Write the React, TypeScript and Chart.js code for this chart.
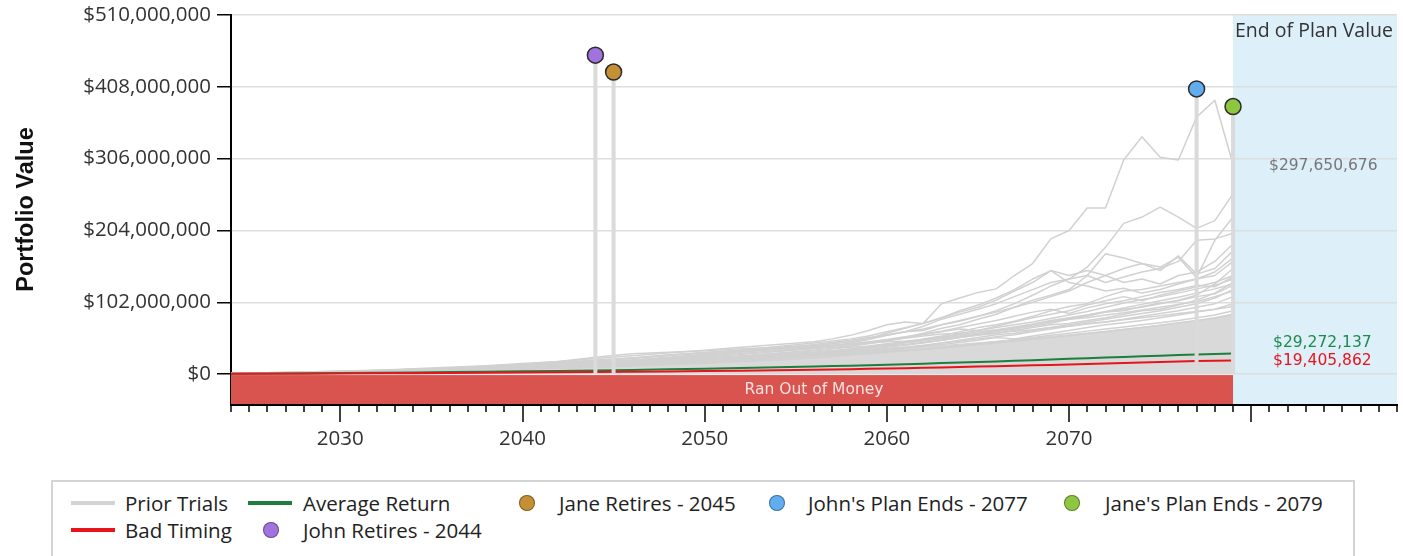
import { useEffect, useRef } from "react";
import { Chart, registerables } from "chart.js";

Chart.register(...registerables);

// ---------- DATA ----------
const trialYears = [2024, 2026, 2028, 2030, 2032, 2034, 2036, 2038, 2040, 2042, 2044, 2046, 2048, 2050, 2052, 2054, 2056, 2057, 2058, 2059, 2060, 2061, 2062, 2063, 2064, 2065, 2066, 2067, 2068, 2069, 2070, 2071, 2072, 2073, 2074, 2075, 2076, 2077, 2078, 2079];

// Prior trial paths, in $ millions
const trial01 = [1.2, 2.0, 3.0, 4.2, 5.6, 7.4, 9.6, 12, 15, 18, 22, 26, 30, 34, 38, 42, 46, 50, 55, 62, 70, 74, 72, 100, 108, 116, 121, 140, 157, 192, 204, 236, 236, 304, 337, 308, 304, 365, 389, 297.65];
const trial02 = [1.0, 1.8, 2.7, 3.8, 5.0, 6.5, 8.3, 10.5, 13, 16, 19, 23, 27, 31, 34, 37, 41, 44, 46, 50, 55, 60, 68, 78, 85, 92, 100, 110, 120, 130, 135, 152, 180, 214, 223, 237, 223, 207, 218, 256];
const trial03 = [1.1, 1.9, 2.8, 3.9, 5.2, 6.8, 8.6, 11, 13.5, 16.5, 20, 23, 27, 30, 33, 37, 42, 45, 48, 52, 56, 60, 64, 70, 76, 82, 88, 95, 105, 112, 120, 140, 171, 165, 157, 152, 166, 137, 190, 223];
const trial04 = [0.9, 1.6, 2.4, 3.3, 4.4, 5.7, 7.2, 9.0, 11, 13.5, 16, 19, 22, 26, 29, 33, 37, 40, 44, 49, 55, 60, 62, 70, 75, 82, 90, 100, 112, 125, 135, 140, 130, 138, 145, 150, 160, 190, 192, 200];
const trial05 = [1.0, 1.7, 2.5, 3.4, 4.5, 5.8, 7.4, 9.2, 11.5, 14, 17, 20, 24, 28, 32, 36, 40, 43, 46, 50, 58, 65, 72, 80, 88, 95, 105, 118, 130, 147, 140, 147, 140, 130, 135, 128, 140, 145, 160, 185];
const trial06 = [0.9, 1.5, 2.2, 3.0, 4.0, 5.2, 6.6, 8.2, 10, 12, 14.5, 17, 20, 24, 28, 32, 36, 38, 40, 43, 47, 52, 58, 65, 70, 78, 85, 95, 102, 110, 118, 130, 140, 150, 157, 147, 168, 142, 150, 175];
const trial07 = [0.8, 1.4, 2.1, 2.9, 3.8, 4.9, 6.2, 7.8, 9.5, 11.5, 14, 16.5, 19, 22, 25, 28, 31, 33, 35, 38, 40, 45, 50, 54, 60, 66, 70, 75, 82, 90, 96, 100, 110, 118, 120, 125, 130, 135, 145, 165];
const trial08 = [0.8, 1.4, 2.0, 2.8, 3.7, 4.7, 5.9, 7.3, 9, 11, 13, 15.5, 18, 21, 24, 27, 30, 32, 34, 37, 40, 42, 45, 48, 52, 56, 60, 64, 68, 72, 78, 82, 88, 92, 95, 100, 105, 112, 128, 150];
const trial09 = [0.9, 1.5, 2.2, 3.0, 3.9, 5.0, 6.3, 7.8, 9.5, 11.5, 13.5, 16, 19, 22, 25, 29, 33, 36, 40, 44, 48, 52, 56, 60, 64, 62, 68, 74, 80, 85, 90, 98, 104, 110, 104, 112, 118, 124, 130, 140];
const trial10 = [0.7, 1.2, 1.8, 2.5, 3.3, 4.2, 5.3, 6.6, 8, 9.6, 11.5, 13.5, 16, 19, 22, 25, 28, 30, 32, 35, 38, 41, 44, 48, 52, 55, 58, 62, 66, 70, 72, 76, 80, 85, 90, 92, 98, 105, 115, 130];
const trial11 = [0.8, 1.3, 1.9, 2.6, 3.4, 4.4, 5.5, 6.8, 8.3, 10, 12, 14, 16.5, 19, 22, 25, 28, 30, 32, 34, 36, 38, 40, 44, 48, 52, 56, 58, 62, 66, 70, 74, 78, 82, 86, 90, 95, 100, 108, 120];
const trial12 = [0.7, 1.2, 1.8, 2.4, 3.1, 4.0, 5.0, 6.2, 7.6, 9.2, 11, 13, 15, 17.5, 20, 23, 26, 28, 30, 33, 36, 38, 41, 44, 47, 50, 53, 56, 60, 64, 68, 72, 74, 78, 82, 86, 90, 95, 100, 110];
const trial13 = [0.8, 1.3, 1.9, 2.6, 3.4, 4.3, 5.4, 6.7, 8.2, 9.9, 12, 14, 16, 18, 20, 23, 26, 27, 29, 32, 34, 37, 40, 42, 45, 48, 52, 50, 54, 58, 62, 66, 70, 73, 76, 80, 84, 88, 92, 100];
const trial14 = [0.6, 1.0, 1.5, 2.1, 2.8, 3.6, 4.5, 5.6, 6.8, 8.2, 9.8, 11.5, 13.5, 15.5, 18, 20, 23, 25, 27, 29, 31, 33, 35, 37, 40, 43, 46, 49, 52, 55, 58, 61, 64, 67, 70, 73, 76, 80, 84, 90];
const trial15 = [0.9, 1.5, 2.3, 3.2, 4.3, 5.6, 7.1, 8.9, 11, 13.5, 16.5, 19.5, 23, 27, 31, 35, 39, 41, 43, 46, 49, 53, 57, 61, 66, 71, 76, 82, 88, 92, 86, 94, 100, 104, 110, 116, 120, 126, 124, 138];
const trial16 = [0.7, 1.2, 1.8, 2.5, 3.3, 4.3, 5.4, 6.7, 8.2, 10, 12, 14.5, 17, 20, 23, 26, 29, 31, 34, 37, 41, 45, 49, 53, 57, 56, 61, 66, 70, 75, 79, 84, 88, 90, 96, 101, 104, 110, 114, 126];
const trial17 = [0.8, 1.3, 2.0, 2.7, 3.6, 4.6, 5.8, 7.2, 8.8, 10.6, 12.8, 15.2, 18, 21, 24, 27.5, 31, 33, 36, 39, 42, 44, 47, 50, 54, 58, 62, 65, 70, 74, 78, 80, 84, 87, 91, 95, 99, 103, 110, 118];
const trial18 = [0.6, 1.0, 1.5, 2.1, 2.8, 3.6, 4.6, 5.7, 7, 8.5, 10.2, 12.2, 14.4, 16.8, 19.5, 22.4, 25.5, 27, 28.6, 30.3, 32, 33.8, 35.7, 37.7, 39.8, 42, 44.3, 46.7, 49.2, 51.8, 54.5, 57.3, 60.2, 63.2, 66.3, 69.5, 72.8, 76, 80, 85];
const trial19 = [1.0, 1.7, 2.6, 3.7, 5.0, 6.6, 8.5, 11, 14, 18, 24, 29, 31, 33, 36, 38, 40, 41, 42, 44, 46, 47, 49, 51, 53, 56, 58, 61, 63, 66, 68, 71, 74, 77, 80, 83, 86, 89, 92, 96];
const trial20 = [0.9, 1.4, 2.1, 2.9, 3.9, 5.1, 6.5, 8.1, 10, 12.2, 14.8, 17.7, 21, 24.7, 28.8, 33.3, 38, 40, 42, 45, 48, 51, 54, 57, 58, 62, 66, 70, 74, 79, 84, 89, 95, 101, 106, 110, 115, 121, 126, 135];
const trial21 = [1.0, 1.6, 2.4, 3.4, 4.6, 6.0, 7.7, 9.7, 12, 15, 18.5, 22, 26, 30, 34, 39, 44, 47, 50, 54, 60, 66, 72, 80, 90, 98, 108, 120, 135, 147, 130, 125, 118, 122, 115, 120, 128, 135, 140, 160];
const trial22 = [0.8, 1.3, 2.0, 2.8, 3.7, 4.8, 6.1, 7.6, 9.4, 11.4, 13.7, 16.3, 19.2, 22.4, 26, 30, 34, 36, 38, 40, 43, 46, 49, 52, 56, 60, 63, 67, 71, 76, 80, 84, 89, 94, 99, 104, 109, 115, 121, 128];
const priorTrials = [trial01, trial02, trial03, trial04, trial05, trial06, trial07, trial08, trial09, trial10, trial11, trial12, trial13, trial14, trial15, trial16, trial17, trial18, trial19, trial20, trial21, trial22];

// Upper edge of the densely packed bulk of prior trials ($M)
const denseTrialsTop = [0.7, 1.3, 1.9, 2.6, 3.4, 4.4, 5.6, 7, 8.6, 10.4, 12.4, 14.6, 17, 19.6, 22.4, 25.4, 28.6, 30.3, 32, 33.5, 35.4, 37, 38.8, 40.6, 42.4, 44.5, 46.5, 48.6, 51, 53.5, 56, 58.5, 61, 63.8, 66.5, 69.5, 72.5, 75.5, 79, 84];

const averageReturn = [0.6, 0.9, 1.2, 1.5, 1.9, 2.3, 2.8, 3.3, 3.9, 4.5, 5.2, 5.9, 6.7, 7.6, 8.6, 9.6, 10.8, 11.4, 12.0, 12.7, 13.4, 14.1, 14.8, 15.6, 16.4, 17.2, 18.0, 18.9, 19.8, 20.7, 21.6, 22.5, 23.4, 24.4, 25.3, 26.2, 27.1, 27.9, 28.6, 29.27];
const badTiming = [0.3, 0.45, 0.6, 0.8, 1.0, 1.25, 1.5, 1.8, 2.1, 2.5, 2.9, 3.3, 3.8, 4.3, 4.9, 5.5, 6.2, 6.6, 7.0, 7.4, 7.9, 8.4, 8.9, 9.4, 10.0, 10.6, 11.2, 11.8, 12.4, 13.0, 13.7, 14.4, 15.1, 15.8, 16.5, 17.2, 17.9, 18.5, 19.0, 19.41];

const milestoneLabels = ["John Retires - 2044", "Jane Retires - 2045", "John's Plan Ends - 2077", "Jane's Plan Ends - 2079"];
const milestoneYears = [2044, 2045, 2077, 2079];
const milestoneValues = [453, 429, 405, 380]; // $M
const milestoneColors = ["#a272de", "#c48f35", "#62acf0", "#8dc63f"];

const yTickValues = [0, 102000000, 204000000, 306000000, 408000000, 510000000];
const xMin = 2024;
const xMax = 2088;
const planEnd = 2079;
const yMin = -42500000;
const yMax = 510000000;

const endMaxValue = 297650676;
const endAverageValue = 29272137;
const endBadValue = 19405862;

const M = 1000000;
const fmt = (v: number) => "$" + Math.round(v).toLocaleString("en-US");

const TICK_FONT = "'Open Sans', 'Noto Sans', sans-serif";
const NOTE_FONT = "'DejaVu Sans', sans-serif";

const toPoints = (vals: number[]) => vals.map((v, i) => ({ x: trialYears[i], y: v * M }));

const overlayPlugin = {
  id: "overlay",
  beforeDraw(chart: any) {
    const { ctx, chartArea, scales } = chart;
    const xs = scales.x;
    const x0 = xs.getPixelForValue(planEnd);
    ctx.save();
    ctx.fillStyle = "#ddeff9";
    ctx.fillRect(x0, chartArea.top, chartArea.right - x0, chartArea.bottom - chartArea.top);
    ctx.restore();
  },
  beforeDatasetsDraw(chart: any) {
    const { ctx, chartArea, scales } = chart;
    const xs = scales.x;
    const ys = scales.y;
    const xa = xs.getPixelForValue(xMin);
    const xb = xs.getPixelForValue(planEnd);
    const y0 = ys.getPixelForValue(0);
    ctx.save();
    ctx.fillStyle = "#d9534f";
    ctx.fillRect(xa, y0 + 1, xb - xa, chartArea.bottom - y0 - 1);
    ctx.restore();
  },
  afterDatasetsDraw(chart: any) {
    const { ctx, chartArea, scales } = chart;
    const xs = scales.x;
    const ys = scales.y;
    ctx.save();
    const y0 = ys.getPixelForValue(0);
    ctx.fillStyle = "#f7e2e2";
    ctx.font = `15.5px ${NOTE_FONT}`;
    ctx.textAlign = "center";
    ctx.textBaseline = "middle";
    ctx.fillText("Ran Out of Money", xs.getPixelForValue(2056), (y0 + chartArea.bottom) / 2 + 1);

    const xe = xs.getPixelForValue(planEnd);
    ctx.textAlign = "left";
    ctx.fillStyle = "#333";
    ctx.font = `19.5px ${TICK_FONT}`;
    ctx.fillText("End of Plan Value", xe + 2, chartArea.top + 16);
    ctx.font = `15.5px ${NOTE_FONT}`;
    ctx.fillStyle = "#777";
    ctx.fillText(fmt(endMaxValue), xe + 36, ys.getPixelForValue(endMaxValue) + 1);
    ctx.fillStyle = "#1e8a4a";
    ctx.fillText(fmt(endAverageValue), xe + 40, ys.getPixelForValue(endAverageValue) - 10);
    ctx.fillStyle = "#e8141c";
    ctx.fillText(fmt(endBadValue), xe + 40, ys.getPixelForValue(endBadValue) + 1);

    const yb = chartArea.bottom + 1;
    ctx.strokeStyle = "#000";
    ctx.lineWidth = 2;
    ctx.beginPath();
    ctx.moveTo(chartArea.left - 1, yb);
    ctx.lineTo(chartArea.right + 1, yb);
    ctx.stroke();
    ctx.lineWidth = 1.5;
    for (let yr = xMin; yr <= xMax; yr++) {
      const px = Math.round(xs.getPixelForValue(yr));
      const len = yr % 10 === 0 ? 17 : 7;
      ctx.beginPath();
      ctx.moveTo(px, yb);
      ctx.lineTo(px, yb + len);
      ctx.stroke();
    }

    ctx.translate(33, (chartArea.top + chartArea.bottom) / 2);
    ctx.rotate(-Math.PI / 2);
    ctx.textAlign = "center";
    ctx.textBaseline = "alphabetic";
    ctx.fillStyle = "#111";
    ctx.font = "bold 23.5px 'Liberation Sans', Arial, sans-serif";
    ctx.fillText("Portfolio Value", 0, 0);
    ctx.restore();
  },
};

function buildDatasets() {
  const ds: any[] = [];
  milestoneYears.forEach((yr, i) => {
    ds.push({
      type: "line",
      label: milestoneLabels[i],
      data: [{ x: yr, y: milestoneValues[i] * M }],
      showLine: false,
      pointRadius: 8,
      pointBackgroundColor: milestoneColors[i],
      pointBorderColor: "#2b2b2b",
      pointBorderWidth: 1.5,
      order: 0,
      clip: false,
    });
    ds.push({
      type: "line",
      label: milestoneLabels[i] + " stem",
      data: [
        { x: yr, y: 0 },
        { x: yr, y: milestoneValues[i] * M },
      ],
      borderColor: "#dadada",
      borderWidth: 4,
      pointRadius: 0,
      order: 1,
    });
  });
  ds.push({
    label: "Bad Timing",
    data: toPoints(badTiming),
    borderColor: "#e8141c",
    borderWidth: 2,
    pointRadius: 0,
    tension: 0,
    order: 2,
  });
  ds.push({
    label: "Average Return",
    data: toPoints(averageReturn),
    borderColor: "#1e7e3e",
    borderWidth: 2,
    pointRadius: 0,
    tension: 0,
    order: 3,
  });
  priorTrials.forEach((t, i) => {
    ds.push({
      label: "Prior Trials " + (i + 1),
      data: toPoints(t),
      borderColor: "#d1d1d1",
      borderWidth: 1.5,
      pointRadius: 0,
      tension: 0,
      order: 5,
    });
  });
  ds.push({
    label: "Prior Trials bulk",
    data: toPoints(denseTrialsTop),
    borderColor: "#d2d2d2",
    borderWidth: 1,
    backgroundColor: "#d9d9d9",
    fill: "origin",
    pointRadius: 0,
    order: 6,
  });
  return ds;
}

const legendRows = [
  { kind: "line", color: "#d3d3d3", label: "Prior Trials", x: 71, tx: 125, y: 503 },
  { kind: "line", color: "#1e7e3e", label: "Average Return", x: 248, tx: 303, y: 503 },
  { kind: "dot", color: milestoneColors[1], label: milestoneLabels[1], x: 527, tx: 559, y: 503 },
  { kind: "dot", color: milestoneColors[2], label: milestoneLabels[2], x: 777, tx: 808, y: 503 },
  { kind: "dot", color: milestoneColors[3], label: milestoneLabels[3], x: 1072, tx: 1105, y: 503 },
  { kind: "line", color: "#e8141c", label: "Bad Timing", x: 71, tx: 125, y: 530 },
  { kind: "dot", color: milestoneColors[0], label: milestoneLabels[0], x: 271, tx: 303, y: 530 },
];

function Legend() {
  return (
    <>
      <div
        style={{
          position: "absolute",
          left: 51,
          top: 480,
          width: 1304,
          height: 100,
          border: "2px solid #d4d4d4",
          boxSizing: "border-box",
        }}
      />
      {legendRows.map((r) => (
        <div key={r.label}>
          {r.kind === "line" ? (
            <div
              style={{
                position: "absolute",
                left: r.x,
                top: r.y - 2,
                width: 44,
                height: 4,
                background: r.color,
              }}
            />
          ) : (
            <div
              style={{
                position: "absolute",
                left: r.x - 8,
                top: r.y - 8,
                width: 16,
                height: 16,
                borderRadius: 8,
                background: r.color,
                boxShadow: "inset 0 0 0 1px rgba(0,0,0,0.35)",
              }}
            />
          )}
          <div
            style={{
              position: "absolute",
              left: r.tx,
              top: r.y - 14,
              height: 28,
              lineHeight: "28px",
              fontFamily: TICK_FONT,
              fontSize: 20.5,
              color: "#222",
              whiteSpace: "nowrap",
            }}
          >
            {r.label}
          </div>
        </div>
      ))}
    </>
  );
}

export default function App() {
  const ref = useRef<HTMLCanvasElement>(null);
  useEffect(() => {
    const chart = new Chart(ref.current as HTMLCanvasElement, {
      type: "line",
      data: { datasets: buildDatasets() },
      plugins: [overlayPlugin],
      options: {
        responsive: false,
        maintainAspectRatio: false,
        devicePixelRatio: 1,
        animation: false,
        parsing: false as any,
        layout: { autoPadding: false, padding: { top: 15, right: 6, left: 0, bottom: 0 } },
        plugins: { legend: { display: false }, tooltip: { enabled: false } },
        elements: { line: { borderJoinStyle: "round" } },
        scales: {
          x: {
            type: "linear",
            min: xMin,
            max: xMax,
            grid: { display: false, drawTicks: false },
            border: { display: false },
            ticks: {
              stepSize: 1,
              autoSkip: false,
              maxRotation: 0,
              padding: 23,
              color: "#333",
              font: { family: TICK_FONT, size: 20.5 },
              callback: (v: any) => (Number(v) % 10 === 0 && Number(v) < 2080 ? String(v) : ""),
            },
            afterFit: (s: any) => {
              s.height = 66;
              s.paddingLeft = 0;
              s.paddingRight = 0;
            },
          },
          y: {
            type: "linear",
            min: yMin,
            max: yMax,
            afterBuildTicks: (s: any) => {
              s.ticks = yTickValues.map((v) => ({ value: v }));
            },
            grid: { color: "#dedede", lineWidth: 1.5, tickColor: "#000", tickLength: 14, tickWidth: 1.5 },
            border: { color: "#000", width: 2 },
            ticks: {
              padding: 6,
              color: "#333",
              font: { family: TICK_FONT, size: 20.5 },
              callback: (v: any) => fmt(Number(v)),
            },
            afterFit: (s: any) => {
              s.width = 231;
              s.paddingTop = 0;
              s.paddingBottom = 0;
            },
          },
        },
      },
    } as any);
    return () => chart.destroy();
  }, []);
  return (
    <div style={{ position: "absolute", left: 0, top: 0, width: 1403, height: 556, overflow: "hidden", background: "#fff" }}>
      <canvas
        ref={ref}
        width={1403}
        height={470}
        style={{ position: "absolute", left: 0, top: 0, width: 1403, height: 470 }}
      />
      <Legend />
    </div>
  );
}
